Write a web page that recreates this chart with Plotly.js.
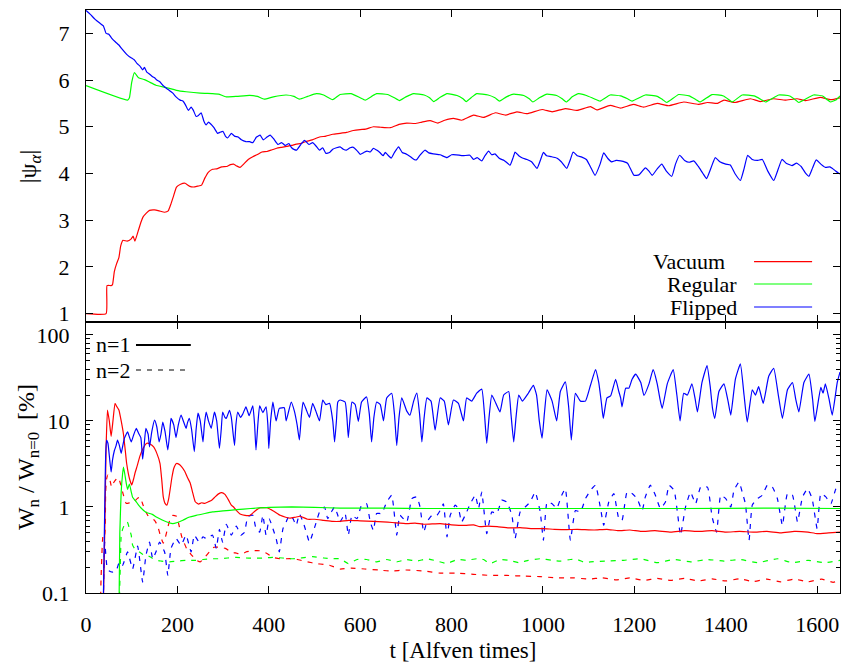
<!DOCTYPE html>
<html>
<head>
<meta charset="utf-8">
<script src="https://cdn.plot.ly/plotly-3.0.1.min.js"></script>
<style>html,body{margin:0;padding:0;background:#fff;}#chart{width:841px;height:664px;}</style>
</head>
<body>
<div id="chart"></div>
<script>
// ---------- DATA: [t, value] pairs ----------
// Top panel |psi_a|
const psiVacuum = [[0,1.0],[44,1.0],[46,1.6],[55,1.6],[58,1.62],[62,1.9],[67,2.07],[72,2.2],[76,2.45],[81,2.57],[90,2.55],[99,2.6],[103,2.66],[107,2.55],[114,2.76],[120,2.95],[125,3.07],[132,3.15],[139,3.21],[150,3.22],[160,3.2],[172,3.17],[180,3.2],[186,3.35],[191,3.5],[198,3.71],[207,3.77],[217,3.79],[226,3.73],[235,3.71],[245,3.73],[253,3.75],[260,3.9],[268,4.03],[277,4.09],[286,4.1],[297,4.14],[308,4.15],[316,4.19],[323,4.2],[330,4.16],[337,4.13],[345,4.2],[355,4.3],[365,4.36],[374,4.4],[385,4.46],[396,4.47],[405,4.5],[417,4.54],[428,4.56],[439,4.58],[450,4.6],[460,4.63],[469,4.64],[480,4.68],[495,4.72],[511,4.78],[525,4.8],[540,4.84],[556,4.86],[570,4.88],[585,4.92],[600,4.94],[612,4.95],[629,5.0],[645,4.99],[666,4.98],[685,5.05],[702,5.08],[720,5.07],[735,5.1],[753,5.13],[770,5.08],[785,5.14],[804,5.18],[822,5.14],[848,5.25],[870,5.2],[896,5.3],[918,5.25],[943,5.32],[965,5.28],[998,5.37],[1020,5.32],[1049,5.39],[1075,5.35],[1104,5.43],[1118,5.36],[1147,5.46],[1170,5.4],[1198,5.48],[1220,5.42],[1250,5.5],[1275,5.45],[1308,5.53],[1340,5.48],[1360,5.52],[1382,5.5],[1396,5.57],[1420,5.52],[1454,5.6],[1475,5.54],[1505,5.6],[1530,5.57],[1556,5.6],[1575,5.56],[1607,5.63],[1630,5.58],[1650,5.62]];
const psiRegular = [[0,5.88],[91,5.57],[95,5.62],[100,5.95],[106,6.16],[115,6.05],[128,6.01],[140,5.95],[153,5.89],[175,5.84],[198,5.78],[219,5.75],[250,5.72],[277,5.71],[290,5.7],[307,5.64],[330,5.65],[358,5.67],[375,5.65],[390,5.59],[410,5.64],[438,5.68],[455,5.65],[467,5.59],[485,5.65],[504,5.71],[520,5.68],[540,5.58],[556,5.69],[580,5.71],[600,5.62],[611,5.57],[625,5.65],[636,5.71],[660,5.69],[675,5.62],[686,5.56],[700,5.64],[717,5.71],[740,5.68],[752,5.62],[761,5.54],[775,5.63],[790,5.71],[812,5.67],[825,5.6],[832,5.54],[845,5.64],[855,5.71],[880,5.68],[895,5.62],[905,5.55],[920,5.64],[936,5.7],[958,5.67],[970,5.6],[978,5.53],[992,5.62],[1009,5.7],[1030,5.67],[1042,5.6],[1051,5.53],[1064,5.64],[1078,5.71],[1095,5.67],[1112,5.6],[1125,5.55],[1147,5.68],[1170,5.66],[1185,5.6],[1195,5.55],[1224,5.68],[1250,5.65],[1262,5.58],[1271,5.52],[1297,5.69],[1320,5.66],[1335,5.58],[1344,5.53],[1370,5.69],[1395,5.66],[1407,5.58],[1414,5.53],[1436,5.68],[1462,5.66],[1478,5.58],[1487,5.53],[1516,5.68],[1540,5.66],[1552,5.58],[1560,5.52],[1592,5.68],[1612,5.66],[1622,5.58],[1629,5.53],[1642,5.58],[1650,5.66]];
const psiFlipped = [[0,7.49],[10,7.4],[20,7.3],[30,7.22],[38,7.16],[44,7.0],[50,6.98],[56,6.9],[64,6.82],[72,6.75],[80,6.65],[89,6.55],[95,6.5],[100,6.47],[106,6.43],[112,6.35],[118,6.3],[124,6.22],[128,6.27],[133,6.17],[140,6.12],[146,6.07],[150,6.05],[155,6.0],[161,5.97],[169,5.88],[175,5.83],[182,5.78],[190,5.72],[197,5.64],[206,5.57],[212,5.55],[217,5.48],[224,5.35],[230,5.42],[235,5.35],[241,5.22],[246,5.24],[252,5.3],[258,5.12],[263,5.04],[268,5.1],[273,5.06],[280,4.98],[288,4.86],[293,4.88],[300,4.9],[305,4.8],[310,4.76],[318,4.86],[325,4.8],[333,4.78],[340,4.72],[350,4.68],[358,4.68],[365,4.66],[373,4.78],[381,4.82],[388,4.72],[396,4.78],[403,4.82],[410,4.75],[420,4.62],[428,4.66],[436,4.6],[444,4.64],[450,4.55],[456,4.51],[461,4.5],[470,4.62],[478,4.71],[488,4.62],[496,4.66],[504,4.58],[511,4.5],[518,4.55],[525,4.43],[533,4.45],[540,4.52],[548,4.55],[556,4.57],[563,4.52],[570,4.5],[578,4.55],[585,4.56],[593,4.49],[600,4.41],[608,4.45],[615,4.48],[622,4.46],[629,4.54],[636,4.5],[643,4.45],[650,4.38],[655,4.45],[662,4.38],[668,4.33],[675,4.45],[684,4.57],[692,4.45],[700,4.42],[710,4.36],[718,4.3],[723,4.29],[730,4.38],[742,4.5],[750,4.44],[760,4.42],[775,4.4],[790,4.34],[800,4.4],[810,4.4],[825,4.38],[840,4.39],[848,4.3],[856,4.34],[866,4.27],[873,4.38],[881,4.48],[888,4.4],[895,4.42],[905,4.32],[915,4.28],[928,4.18],[935,4.35],[939,4.46],[947,4.38],[955,4.33],[965,4.3],[975,4.25],[987,4.11],[995,4.3],[1001,4.45],[1008,4.38],[1018,4.36],[1030,4.33],[1040,4.25],[1052,4.11],[1060,4.3],[1066,4.46],[1075,4.38],[1085,4.35],[1095,4.3],[1104,4.14],[1114,3.96],[1125,4.2],[1133,4.44],[1142,4.32],[1150,4.25],[1160,4.28],[1170,4.27],[1185,4.22],[1199,3.96],[1210,3.97],[1224,4.12],[1232,4.05],[1239,3.96],[1250,4.1],[1260,4.2],[1270,4.05],[1282,3.94],[1290,4.2],[1299,4.39],[1310,4.28],[1320,4.24],[1330,4.27],[1340,4.15],[1350,4.0],[1358,3.89],[1367,4.1],[1377,4.34],[1387,4.25],[1400,4.2],[1410,4.18],[1420,4.0],[1432,3.85],[1440,4.1],[1448,4.39],[1458,4.3],[1470,4.28],[1480,4.3],[1492,4.05],[1505,3.85],[1515,4.1],[1523,4.3],[1532,4.22],[1545,4.17],[1555,4.22],[1565,4.15],[1575,4.0],[1582,3.94],[1590,4.12],[1598,4.29],[1608,4.2],[1618,4.13],[1628,4.14],[1637,4.08],[1645,4.02],[1650,3.99]];

// Bottom panel W_n / W_n=0 [%]
const wVacuumN1 = [[38,0.08],[41,0.5],[44,5],[47,13.4],[51,10],[55,6.6],[59,10],[63.5,16],[68,14.5],[72,13.4],[77,10],[82,7],[86,4.5],[89,3.2],[93,2.4],[96,2.06],[100,1.8],[104,2.1],[107,2.45],[112,3.0],[118,3.9],[125,4.8],[133,5.5],[140,5.4],[148,5.0],[155,4.2],[162,3.2],[166,2.0],[169,1.32],[173,1.1],[177,1.05],[181,1.25],[184,1.58],[188,2.2],[192,2.8],[195,3.06],[198,3.2],[203,3.15],[209,2.95],[216,2.6],[222,2.2],[228,1.9],[233,1.5],[239,1.15],[246,1.08],[253,1.12],[260,1.1],[268,1.15],[275,1.2],[282,1.3],[290,1.42],[297,1.47],[304,1.4],[312,1.2],[318,1.05],[323,1.0],[330,0.9],[337,0.83],[348,0.8],[359,0.8],[370,0.9],[381,0.98],[396,0.98],[410,0.9],[425,0.8],[437,0.76],[447,0.74],[458,0.76],[469,0.78],[485,0.72],[500,0.72],[520,0.7],[540,0.68],[556,0.68],[575,0.7],[600,0.69],[629,0.68],[650,0.67],[670,0.66],[702,0.64],[720,0.65],[740,0.63],[775,0.64],[800,0.62],[830,0.61],[848,0.62],[862,0.59],[880,0.6],[900,0.59],[925,0.57],[950,0.575],[975,0.56],[1000,0.56],[1025,0.55],[1052,0.545],[1075,0.55],[1112,0.54],[1140,0.55],[1165,0.53],[1190,0.54],[1215,0.52],[1245,0.53],[1280,0.51],[1310,0.53],[1340,0.52],[1370,0.53],[1400,0.51],[1430,0.52],[1460,0.51],[1490,0.52],[1520,0.5],[1550,0.52],[1580,0.51],[1600,0.49],[1625,0.5],[1650,0.51]];
const wRegularN1 = [[72,0.05],[74,0.5],[77,1.5],[80,2.4],[82,2.9],[85,2.4],[88,1.9],[91,1.6],[95,1.85],[99,1.5],[102,1.3],[107,1.2],[113,1.09],[120,0.98],[131,0.87],[145,0.82],[155,0.76],[168,0.7],[180,0.66],[190,0.64],[200,0.66],[212,0.7],[225,0.76],[241,0.8],[260,0.84],[277,0.875],[300,0.9],[329,0.93],[360,0.96],[401,0.99],[450,1.0],[500,0.99],[556,0.97],[650,0.97],[750,0.96],[900,0.96],[1100,0.96],[1300,0.96],[1500,0.97],[1650,0.96]];
const wFlippedN1 = [[38,0.08],[41,1.0],[43,4],[45,6],[48,5.5],[52,3.5],[55,2.55],[58,3.5],[62,4.5],[66,5.2],[69,6],[73,5.2],[77,4.2],[80,5],[84,6.3],[91,7.45],[95,6.5],[99,5.7],[104,6.8],[110,8.2],[115,7.2],[120,6.4],[124,3.6],[127,5],[131,8.2],[136,7],[139,5],[144,7.5],[150,10.2],[155,8.5],[160,5.7],[164,7],[168,9.7],[173,7.5],[179,4.6],[183,7],[186,10.7],[192,9],[197,6.4],[202,9],[208,11.7],[213,10],[219,8.2],[222,9.5],[226,10.7],[231,8],[237,4.4],[241,8],[245,12.3],[250,10],[256,5.7],[259,9],[263,12.7],[268,10],[274,8.2],[281,12.7],[286,10],[292,4.8],[296,8],[299,12.7],[304,11],[307,10.7],[314,13.3],[318,11],[325,5.2],[328,9],[332,12.7],[338,11],[343,12],[350,14.6],[357,11.5],[365,15],[369,9],[372,4.6],[376,9],[380,15],[387,12.5],[394,14.6],[398,9],[400,4.8],[404,10],[409,16.6],[416,10],[423,14],[434,14.2],[438,10],[449,16.6],[456,13],[462,9],[467,6],[471,11],[475,16.6],[482,13.5],[489,11],[496,16],[503,13],[511,10],[518,17.5],[525,15.5],[533,16],[540,10],[544,5.7],[548,10],[551,16.6],[556,17.5],[567,16.6],[571,11],[574,6.4],[578,11],[582,16.6],[589,15.5],[596,9.9],[603,16.6],[614,19],[620,12],[625,5.7],[630,11],[636,16.6],[644,15.5],[651,10],[658,18.5],[669,21],[675,12],[680,5.2],[685,11],[691,18.5],[702,13],[709,11.7],[717,17],[724,21],[730,12],[735,5.7],[740,11],[746,18.5],[755,17],[764,7.8],[775,18.5],[784,17],[793,9],[804,17.5],[815,16],[826,10],[833,18.5],[844,17],[855,21],[866,23.5],[872,12],[877,5.5],[882,11],[888,20],[897,16],[906,12.7],[914,20],[925,22],[930,12],[936,5.7],[941,11],[947,20],[955,17],[968,21],[979,26],[986,20],[992,10],[998,6.3],[1003,12],[1009,23],[1020,17],[1030,10],[1038,22],[1049,28.5],[1056,15],[1062,6],[1066,11],[1071,21],[1082,17],[1093,17],[1104,26],[1115,39.5],[1122,28],[1128,16],[1132,10.7],[1140,18.5],[1148,19.5],[1159,30.5],[1166,22],[1170,18.5],[1173,14.6],[1181,24],[1188,24],[1195,30.5],[1203,35],[1214,28],[1221,19.8],[1232,27],[1241,39.5],[1250,27],[1256,18],[1261,14],[1272,27],[1285,39.5],[1293,20],[1300,10],[1308,21],[1316,20],[1326,27],[1333,18],[1338,12.7],[1348,28],[1359,44],[1366,25],[1371,14],[1376,10.7],[1385,22],[1396,27],[1405,17],[1411,11.7],[1421,30.5],[1432,46],[1440,20],[1447,9.7],[1458,23],[1465,20],[1472,25],[1482,16],[1494,33],[1505,41],[1515,20],[1524,10.7],[1535,23],[1546,28],[1553,18],[1560,12.7],[1571,28],[1582,35],[1590,18],[1595,9.9],[1608,24.5],[1613,21],[1618,27],[1626,18],[1633,11.7],[1644,28],[1650,37]];
const wVacuumN2 = [[31,0.05],[33,0.15],[36,0.4],[38,0.5],[41,0.48],[43,1.5],[45,2.1],[48,2.35],[52,2.1],[56,1.7],[60,1.9],[66,2.1],[71,2.2],[75,1.9],[80,1.5],[88,1.1],[96,1.12],[105,1.15],[112,1.25],[118,1.3],[125,1.05],[135,0.8],[150,0.7],[157,0.6],[162,0.48],[169,0.38],[174,0.45],[179,0.58],[185,0.75],[190,0.8],[198,0.78],[204,0.6],[209,0.46],[215,0.38],[220,0.33],[230,0.28],[242,0.24],[250,0.23],[260,0.26],[270,0.3],[280,0.34],[292,0.34],[305,0.33],[318,0.3],[330,0.29],[340,0.28],[350,0.3],[365,0.31],[380,0.31],[395,0.29],[409,0.26],[425,0.25],[438,0.25],[455,0.25],[470,0.24],[485,0.23],[504,0.22],[520,0.215],[533,0.21],[556,0.19],[580,0.195],[610,0.19],[640,0.185],[666,0.18],[700,0.185],[740,0.18],[775,0.17],[810,0.17],[848,0.165],[885,0.16],[921,0.16],[960,0.157],[994,0.155],[1030,0.15],[1067,0.15],[1100,0.145],[1130,0.15],[1160,0.142],[1190,0.15],[1220,0.14],[1250,0.148],[1280,0.14],[1310,0.148],[1340,0.138],[1370,0.146],[1400,0.138],[1430,0.146],[1460,0.136],[1490,0.145],[1520,0.135],[1550,0.145],[1580,0.135],[1610,0.145],[1635,0.133],[1650,0.14]];
const wRegularN2 = [[72,0.05],[75,0.2],[77,0.47],[80,0.55],[84,0.62],[88,0.67],[91,0.66],[95,0.56],[99,0.47],[102,0.36],[108,0.32],[117,0.3],[125,0.28],[131,0.28],[142,0.26],[153,0.24],[165,0.235],[183,0.23],[200,0.235],[219,0.24],[240,0.24],[256,0.245],[275,0.25],[292,0.25],[310,0.255],[329,0.26],[350,0.255],[370,0.255],[390,0.255],[409,0.26],[430,0.255],[450,0.25],[470,0.255],[496,0.265],[520,0.255],[540,0.25],[556,0.25],[574,0.22],[593,0.245],[614,0.245],[636,0.23],[658,0.245],[680,0.23],[702,0.245],[724,0.235],[746,0.25],[768,0.235],[790,0.22],[812,0.245],[833,0.24],[855,0.25],[870,0.245],[884,0.22],[906,0.245],[925,0.24],[947,0.225],[968,0.24],[994,0.25],[1020,0.24],[1038,0.235],[1060,0.245],[1075,0.245],[1093,0.225],[1104,0.23],[1140,0.235],[1177,0.24],[1214,0.25],[1250,0.225],[1286,0.245],[1323,0.23],[1360,0.245],[1396,0.235],[1432,0.245],[1469,0.225],[1513,0.25],[1546,0.225],[1580,0.24],[1615,0.225],[1650,0.24]];
const wFlippedN2 = [[38,0.08],[41,0.39],[46,0.2],[51,0.18],[58,0.175],[66,0.18],[73,0.23],[80,0.21],[91,0.3],[102,0.19],[113,0.35],[124,0.134],[131,0.27],[139,0.39],[146,0.25],[153,0.3],[161,0.39],[172,0.3],[179,0.16],[186,0.33],[197,0.43],[208,0.36],[219,0.47],[230,0.3],[237,0.47],[248,0.39],[256,0.45],[263,0.43],[277,0.47],[285,0.33],[292,0.55],[299,0.39],[307,0.63],[318,0.47],[329,0.6],[339,0.47],[347,0.51],[354,0.77],[365,0.8],[372,0.56],[380,0.51],[387,0.8],[394,0.47],[401,0.73],[409,0.56],[416,0.43],[423,0.3],[431,0.56],[438,0.67],[445,0.8],[453,0.73],[460,0.61],[467,0.83],[475,0.67],[482,0.51],[489,0.39],[504,0.67],[511,0.875],[522,1.0],[529,0.73],[537,0.875],[544,1.0],[551,0.8],[556,0.67],[567,0.84],[574,0.47],[582,0.8],[593,0.73],[603,1.05],[614,1.09],[622,0.67],[629,0.535],[636,0.84],[647,0.84],[658,1.14],[669,1.37],[680,0.47],[687,0.8],[702,0.67],[713,1.25],[724,1.31],[731,1.0],[739,0.51],[746,0.67],[757,0.8],[768,0.8],[775,0.91],[782,1.09],[790,0.45],[797,0.8],[808,1.05],[815,0.96],[822,0.67],[833,0.875],[841,1.09],[852,1.37],[859,0.96],[866,1.49],[877,0.49],[888,0.875],[899,0.84],[910,1.2],[921,1.14],[932,0.8],[939,0.43],[950,0.875],[961,1.0],[972,1.14],[983,1.49],[994,0.875],[1001,0.41],[1009,1.14],[1020,1.09],[1030,0.96],[1041,1.37],[1049,1.63],[1060,0.41],[1071,0.91],[1082,0.875],[1093,1.25],[1104,1.56],[1115,1.79],[1126,0.96],[1133,0.61],[1144,1.14],[1155,1.43],[1166,0.73],[1173,0.70],[1184,1.49],[1195,1.43],[1206,1.25],[1217,0.91],[1224,1.31],[1235,1.79],[1246,1.37],[1257,0.96],[1268,1.14],[1276,1.79],[1287,1.56],[1295,0.80],[1301,0.47],[1312,1.0],[1323,1.49],[1334,1.09],[1345,1.7],[1360,1.7],[1370,0.77],[1380,0.51],[1389,1.37],[1400,1.25],[1411,1.0],[1418,1.56],[1429,1.95],[1436,1.49],[1443,1.09],[1451,0.41],[1458,1.05],[1469,1.25],[1480,1.37],[1491,1.79],[1502,1.7],[1513,1.25],[1524,0.61],[1535,1.43],[1546,1.37],[1557,0.67],[1568,1.31],[1579,1.63],[1589,1.25],[1600,0.56],[1608,1.43],[1619,1.31],[1630,1.09],[1641,1.63],[1648,1.79]];

// Axis ticks and labels
const xTickVals = [0,200,400,600,800,1000,1200,1400,1600];
const psiTickVals = [1,2,3,4,5,6,7];
const wTickVals = [0.1,1,10,100];
const wTickText = ['0.1','1','10','100'];
const wMinorVals = [0.2,0.3,0.4,0.5,0.6,0.7,0.8,0.9,2,3,4,5,6,7,8,9,20,30,40,50,60,70,80,90];
const seriesNames = ['Vacuum','Regular','Flipped'];
const seriesColors = ['#ff0000','#00ff00','#0000ff'];
const modeNames = ['n=1','n=2'];

// ---------- BUILD ----------
const xs = a => a.map(p => p[0]);
const ys = a => a.map(p => p[1]);
const LW = 1.2;
const DASH = '5px,6px';
function tr(data, xa, ya, color, dash, name){
  return {x: xs(data), y: ys(data), xaxis: xa, yaxis: ya, type:'scatter', mode:'lines',
    name: name, line:{color: color, width: LW, dash: dash || 'solid', shape:'spline', smoothing:0.4},
    hoverinfo:'skip'};
}
const traces = [
  tr(psiVacuum,'x2','y',seriesColors[0],null,seriesNames[0]),
  tr(psiRegular,'x2','y',seriesColors[1],null,seriesNames[1]),
  tr(psiFlipped,'x2','y',seriesColors[2],null,seriesNames[2]),
  tr(wVacuumN2,'x','y2',seriesColors[0],DASH,seriesNames[0]+' n=2'),
  tr(wRegularN2,'x','y2',seriesColors[1],DASH,seriesNames[1]+' n=2'),
  tr(wFlippedN2,'x','y2',seriesColors[2],DASH,seriesNames[2]+' n=2'),
  tr(wVacuumN1,'x','y2',seriesColors[0],null,seriesNames[0]+' n=1'),
  tr(wRegularN1,'x','y2',seriesColors[1],null,seriesNames[1]+' n=1'),
  tr(wFlippedN1,'x','y2',seriesColors[2],null,seriesNames[2]+' n=1')
];

const FAM = '"Liberation Serif", "Times New Roman", serif';
const FONT = {family:FAM, size:22, color:'#000'};
const TFONT = {family:FAM, size:23, color:'#000'};
const YFONT = {family:FAM, size:24, color:'#000'};
const split = 271/583;
const axBase = {showline:true, linecolor:'#000', linewidth:1.2, mirror:'allticks', ticks:'inside',
  ticklen:7, tickwidth:1, tickcolor:'#000', showgrid:false, zeroline:false, tickfont:FONT};

const layout = {
  width:841, height:664,
  margin:{l:86, r:1, t:10, b:71, pad:0},
  paper_bgcolor:'#fff', plot_bgcolor:'#fff',
  showlegend:false, font:FONT,
  xaxis: Object.assign({}, axBase, {domain:[0,1], anchor:'y2', range:[0,1650], tickmode:'array',
    tickvals:xTickVals, ticklabelstandoff:11,
    title:{text:'t [Alfven times]', font:TFONT, standoff:6}}),
  xaxis2: Object.assign({}, axBase, {domain:[0,1], anchor:'y', range:[0,1650], matches:'x',
    tickmode:'array', tickvals:xTickVals, showticklabels:false}),
  yaxis: Object.assign({}, axBase, {domain:[split,1], anchor:'x2', range:[0.82,7.5],
    tickmode:'array', tickvals:psiTickVals, ticklabelstandoff:11}),
  yaxis2: Object.assign({}, axBase, {domain:[0,split], anchor:'x', type:'log', range:[-1,2.15],
    tickmode:'array', tickvals:wTickVals, ticktext:wTickText, ticklabelstandoff:11,
    minor:{tickmode:'array', tickvals:wMinorVals, ticks:'inside', ticklen:4, tickwidth:1, tickcolor:'#000', showgrid:false}}),
  annotations: [
    {xref:'paper', yref:'paper', x:-0.0743, y:0.732, text:'|ψ<sub><i>α</i></sub>|', textangle:-90,
     showarrow:false, xanchor:'center', yanchor:'middle', font:YFONT},
    {xref:'paper', yref:'paper', x:-0.077, y:0.233, text:'W<sub>n</sub> / W<sub>n=0</sub>\u00a0\u00a0[%]', textangle:-90,
     showarrow:false, xanchor:'center', yanchor:'middle', font:YFONT},
    {xref:'paper', yref:'paper', x:0.850, y:0.568, text:seriesNames[0], showarrow:false, xanchor:'right', yanchor:'middle', font:FONT},
    {xref:'paper', yref:'paper', x:0.866, y:0.530, text:seriesNames[1], showarrow:false, xanchor:'right', yanchor:'middle', font:FONT},
    {xref:'paper', yref:'paper', x:0.866, y:0.490, text:seriesNames[2], showarrow:false, xanchor:'right', yanchor:'middle', font:FONT},
    {xref:'paper', yref:'paper', x:0.0106, y:0.4254, text:modeNames[0], showarrow:false, xanchor:'left', yanchor:'middle', font:FONT},
    {xref:'paper', yref:'paper', x:0.0106, y:0.3825, text:modeNames[1], showarrow:false, xanchor:'left', yanchor:'middle', font:FONT}
  ],
  shapes: [
    {type:'line', xref:'paper', yref:'paper', x0:0.886, x1:0.963, y0:0.5683, y1:0.5683, line:{color:seriesColors[0], width:LW}},
    {type:'line', xref:'paper', yref:'paper', x0:0.886, x1:0.963, y0:0.530, y1:0.530, line:{color:seriesColors[1], width:LW}},
    {type:'line', xref:'paper', yref:'paper', x0:0.886, x1:0.963, y0:0.4906, y1:0.4906, line:{color:seriesColors[2], width:LW}},
    {type:'line', xref:'paper', yref:'paper', x0:0.0663, x1:0.139, y0:0.4254, y1:0.4254, line:{color:'#000', width:2}},
    {type:'line', xref:'paper', yref:'paper', x0:0.0663, x1:0.139, y0:0.3825, y1:0.3825, line:{color:'#000', width:1.2, dash:DASH}}
  ]
};

Plotly.newPlot('chart', traces, layout, {staticPlot:true, displayModeBar:false});
</script>
</body>
</html>
